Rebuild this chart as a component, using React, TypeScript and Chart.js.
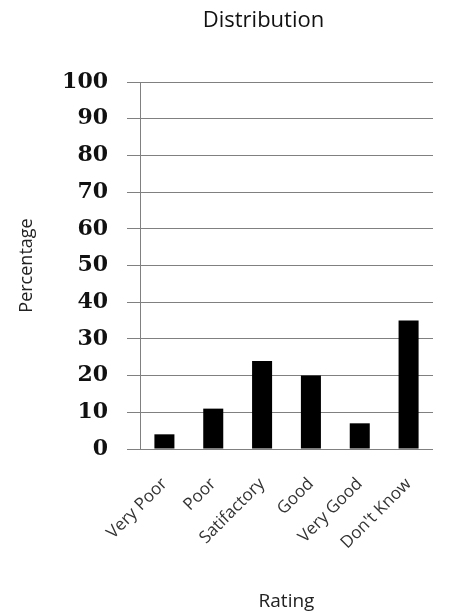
import { useEffect, useRef } from "react";
import { Chart, registerables } from "chart.js";

Chart.register(...registerables);

// Survey ratings and the share of respondents choosing each one
const ratings = ["Very Poor", "Poor", "Satifactory", "Good", "Very Good", "Don't Know"];
const percentages = [4, 11, 24, 20, 7, 35];
const yTickValues = [0, 10, 20, 30, 40, 50, 60, 70, 80, 90, 100];

const chartTitle = "Distribution";
const xTitle = "Rating";
const yTitle = "Percentage";

const sans = "'Open Sans', 'DejaVu Sans', sans-serif";
const gridGray = "#808080";

// Draws the chart heading, set a little left of the plot's centre
const headingPlugin = {
  id: "heading",
  afterDraw(chart: Chart) {
    const { ctx, chartArea } = chart;
    ctx.save();
    ctx.font = `22px ${sans}`;
    ctx.fillStyle = "#111";
    ctx.textAlign = "center";
    ctx.textBaseline = "middle";
    const cx = (chartArea.left + chartArea.right) / 2 - 23;
    ctx.fillText(chartTitle, cx, 21);
    ctx.restore();
  },
};

export default function App() {
  const canvasRef = useRef<HTMLCanvasElement>(null);

  useEffect(() => {
    const chart = new Chart(canvasRef.current!, {
      type: "bar",
      data: {
        labels: ratings,
        datasets: [
          {
            data: percentages,
            backgroundColor: "#000",
            borderWidth: 0,
            barPercentage: 0.5,
            categoryPercentage: 0.82,
          },
        ],
      },
      options: {
        animation: false,
        responsive: true,
        maintainAspectRatio: false,
        layout: { padding: { top: 82, right: 18, left: 0, bottom: 0 } },
        plugins: {
          legend: { display: false },
          tooltip: { enabled: false },
          title: { display: false },
        },
        scales: {
          x: {
            grid: { display: false, drawTicks: false },
            border: { display: false },
            ticks: {
              minRotation: 45,
              maxRotation: 45,
              padding: 25,
              color: "#333",
              font: { family: sans, size: 17 },
            },
            title: {
              display: true,
              text: xTitle,
              color: "#222",
              font: { family: sans, size: 19 },
              padding: { top: 0, bottom: 0 },
            },
            afterFit(scale: any) {
              scale.height = 164;
            },
          },
          y: {
            min: 0,
            max: 100,
            afterBuildTicks(scale: any) {
              scale.ticks = yTickValues.map((v) => ({ value: v }));
            },
            ticks: {
              padding: 19,
              color: "#111",
              font: { family: "'DejaVu Serif', serif", size: 22, weight: "bold" },
            },
            grid: { color: gridGray, lineWidth: 1, tickLength: 13, drawTicks: true },
            border: { display: true, color: gridGray, width: 1 },
            title: {
              display: true,
              text: yTitle,
              color: "#222",
              font: { family: sans, size: 18 },
              padding: { top: 16, bottom: 0 },
            },
            afterFit(scale: any) {
              scale.width = 140;
            },
          },
        },
      },
      plugins: [headingPlugin],
    });
    return () => chart.destroy();
  }, []);

  return (
    <div style={{ position: "fixed", left: 0, top: 0, width: 451, height: 613, background: "#fff" }}>
      <canvas ref={canvasRef} />
    </div>
  );
}
